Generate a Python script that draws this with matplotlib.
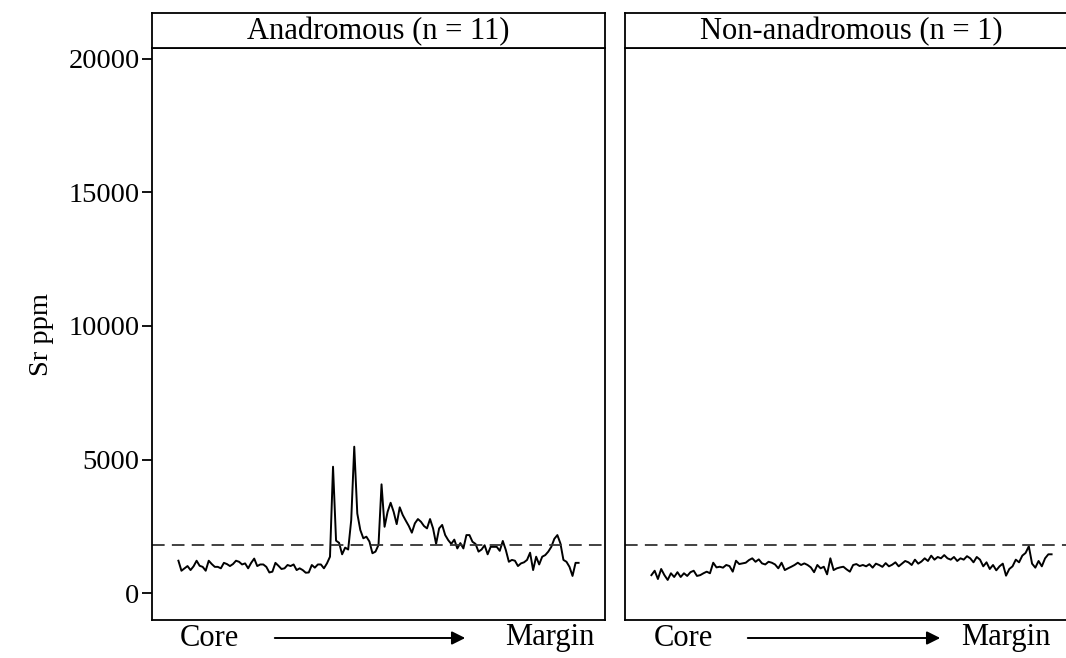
import matplotlib.pyplot as plt
import numpy as np

plt.rcParams['font.family'] = ['Liberation Serif', 'DejaVu Serif']

# Sr ppm transects, core -> margin
anad_sr = [1210, 835, 925, 1010, 860, 1000, 1210, 1020, 980, 835, 1210, 1085,
           980, 980, 925, 1130, 1085, 1010, 1085, 1210, 1170, 1070, 1110, 925,
           1130, 1290, 1010, 1070, 1070, 980, 770, 800, 1130, 1020, 900, 925,
           1050, 1010, 1070, 860, 925, 860, 760, 770, 1050, 950, 1070, 1070,
           925, 1110, 1360, 4730, 1960, 1880, 1450, 1700, 1630, 2730, 5480, 2980,
           2360, 2050, 2110, 1930, 1490, 1550, 1800, 4070, 2480, 3040, 3380, 3040,
           2580, 3210, 2920, 2710, 2510, 2260, 2610, 2770, 2670, 2510, 2420, 2770,
           2420, 1840, 2420, 2550, 2170, 1980, 1840, 2000, 1670, 1870, 1670, 2170,
           2170, 1920, 1840, 1550, 1630, 1790, 1450, 1730, 1730, 1730, 1580, 1950,
           1610, 1170, 1240, 1210, 1010, 1110, 1150, 1240, 1510, 860, 1360, 1070,
           1360, 1420, 1550, 1730, 2030, 2170, 1860, 1240, 1170, 980, 640, 1130,
           1130]

nonanad_sr = [670, 835, 525, 900, 670, 490, 740, 600, 780, 600, 740, 640,
              780, 835, 640, 670, 740, 800, 740, 1135, 960, 985, 950, 1050,
              1010, 800, 1210, 1085, 1110, 1135, 1235, 1300, 1170, 1260, 1110, 1070,
              1170, 1135, 1070, 925, 1135, 860, 925, 985, 1050, 1135, 1050, 1110,
              1050, 960, 780, 1050, 925, 985, 700, 1300, 860, 925, 960, 985,
              885, 800, 1050, 1085, 1010, 1050, 1000, 1080, 950, 1100, 1050, 980,
              1120, 1000, 1060, 1150, 1000, 1100, 1200, 1150, 1050, 1250, 1100, 1180,
              1300, 1200, 1400, 1250, 1350, 1300, 1420, 1300, 1250, 1350, 1200, 1300,
              1250, 1380, 1300, 1150, 1350, 1250, 1000, 1150, 900, 1050, 850, 1000,
              1100, 650, 900, 1000, 1250, 1150, 1400, 1500, 1750, 1100, 950, 1200,
              1000, 1300, 1450, 1450]

panels = ['Anadromous (n = 11)', 'Non-anadromous (n = 1)']
series = [anad_sr, nonanad_sr]
threshold = 1800
yticks = [0, 5000, 10000, 15000, 20000]

fig = plt.figure(figsize=(10.66, 6.58), dpi=100)
W, H = 1066, 658

# per-panel pixel layout: left edge, Core start, arrow start/end, Margin end
layout = [(152, 180, 272, 468, 595), (625, 654, 745, 943, 1051)]

for i, (title, vals) in enumerate(zip(panels, series)):
    left, core_x, a0, a1, marg_x = layout[i]
    ax = fig.add_axes([left / W, (H - 620) / H, 453 / W, 572 / H])
    x = np.linspace(0, 1, len(vals))
    ax.plot(x, vals, color='black', lw=1.4)
    ax.axhline(threshold, color='#333333', lw=1.3, ls=(0, (7, 4)))
    ax.set_xlim(-0.066, 1.066)
    ax.set_ylim(-1010, 20410)
    ax.set_xticks([])
    for s in ax.spines.values():
        s.set_linewidth(1.3)
    if i == 0:
        ax.set_yticks(yticks)
        ax.tick_params(axis='y', labelsize=20.5, length=7, width=1.3, pad=2)
        ax.set_ylabel('Sr ppm', fontsize=20.5, labelpad=10)
    else:
        ax.set_yticks([])

    # strip header
    sax = fig.add_axes([left / W, (H - 48) / H, 453 / W, 35 / H])
    sax.set_xticks([])
    sax.set_yticks([])
    for s in sax.spines.values():
        s.set_linewidth(1.3)
    sax.text(0.5, 0.48, title, ha='center', va='center', fontsize=22,
             transform=sax.transAxes)

    # core -> margin axis label
    fy = (H - 638) / H
    fig.text(core_x / W, fy, 'Core', ha='left', va='center', fontsize=22)
    fig.text(marg_x / W, fy, 'Margin', ha='right', va='center', fontsize=22)
    fig.add_artist(plt.Annotation('', xy=(a1 / W, fy), xytext=(a0 / W, fy),
                                  xycoords='figure fraction',
                                  textcoords='figure fraction',
                                  arrowprops=dict(arrowstyle='-|>', color='black',
                                                  lw=1.4, mutation_scale=20)))

fig.savefig('out.png', dpi=100)
